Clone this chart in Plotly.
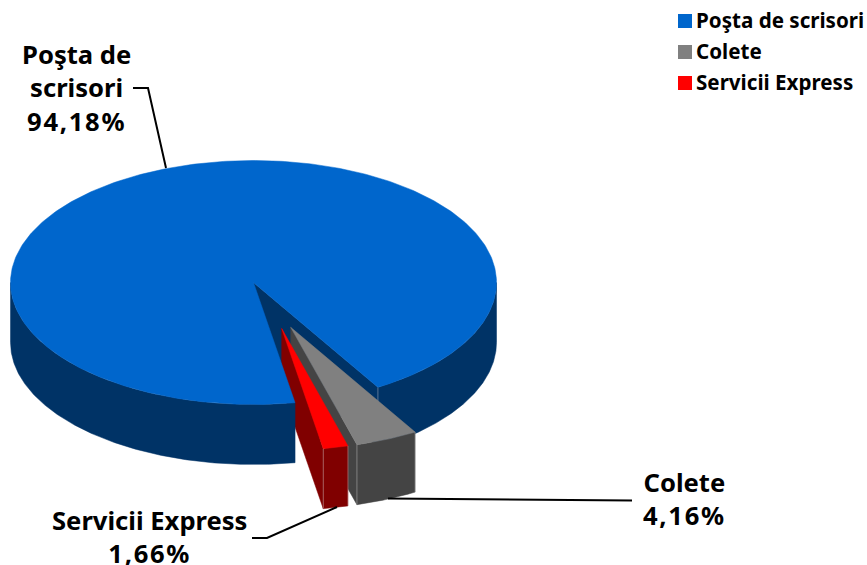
import numpy as np
import plotly.graph_objects as go

categories = ["Poşta de scrisori", "Colete", "Servicii Express"]
label_names = ["Poşta de<br>scrisori", "Colete", "Servicii Express"]
percent_values = [94.18, 4.16, 1.66]
percent_labels = ["94,18%", "4,16%", "1,66%"]

TOP_COLORS = ["#0066CC", "#808080", "#FF0000"]
SIDE_COLORS = ["#003366", "#444444", "#800000"]
EDGE = "rgba(215,215,215,0.4)"

W, H = 867, 565
CX, CY, RX, RY, DEPTH = 253.5, 282.5, 243.0, 122.0, 60.0
START_DEG = 59.2
ORDER = [1, 2, 0]  # clockwise from the start angle
OFFSETS = {0: (0.0, 0.0), 1: (37.2, 44.8), 2: (28.2, 46.0)}

FONT = "Noto Sans"
LEGEND_SIZE = 20.6
LABEL_SIZE = 25.6


def arc(a0, a1, n=200):
    return np.radians(np.linspace(a0, a1, n))


# angular spans derived from the values
spans = {}
a = START_DEG
tot = sum(percent_values)
for i in ORDER:
    spans[i] = (a, a + percent_values[i] / tot * 360)
    a = spans[i][1]

fig = go.Figure()


def poly(xs, ys, color):
    fig.add_trace(go.Scatter(
        x=list(xs) + [xs[0]], y=list(ys) + [ys[0]], mode="lines", fill="toself",
        fillcolor=color, line=dict(color=color, width=0.5),
        hoverinfo="skip", showlegend=False))


def line(xs, ys, color="#000000", width=2):
    fig.add_trace(go.Scatter(x=xs, y=ys, mode="lines",
                             line=dict(color=color, width=width),
                             hoverinfo="skip", showlegend=False))


def slice_xy(i, t):
    dx, dy = OFFSETS[i]
    return CX + dx + RX * np.cos(t), CY + dy + RY * np.sin(t)


def cut_face(i):
    vx, vy = CX + OFFSETS[i][0], CY + OFFSETS[i][1]
    ex, ey = slice_xy(i, np.radians(spans[i][1]))
    poly([vx, ex, ex, vx], [vy, ey, ey + DEPTH, vy + DEPTH], SIDE_COLORS[i])


def wall(i, w0, w1, n=200):
    x, y = slice_xy(i, arc(w0, w1, n))
    poly(np.r_[x, x[::-1]], np.r_[y, y[::-1] + DEPTH], SIDE_COLORS[i])


def top(i, n=400):
    vx, vy = CX + OFFSETS[i][0], CY + OFFSETS[i][1]
    x, y = slice_xy(i, arc(*spans[i], n))
    poly(np.r_[vx, x], np.r_[vy, y], TOP_COLORS[i])


def seam(i, ang):
    ex, ey = slice_xy(i, np.radians(ang))
    line([ex, ex], [ey, ey + DEPTH], EDGE, 1)


# back part of the big slice: the cut face in the gap and the right-hand wall
cut_face(0)
wall(0, 360, spans[0][1])
seam(0, spans[0][1])
# the two pulled-out slices
for i in (1, 2):
    cut_face(i)
    wall(i, *spans[i], 40)
    top(i, 40)
    seam(i, spans[i][0])
    seam(i, spans[i][1])
# front part of the big slice lies over their inner corners
wall(0, spans[0][0], 180)
top(0)

# leader lines
line([133, 148, 166], [88, 88, 168])
line([388, 632], [498.5, 500.5])
line([252, 267, 337], [538, 538, 507])

# data labels
label_pos = [(76.5, 87.5), (684, 498.5), (149.5, 537)]
for name, pct, (lx, ly) in zip(label_names, percent_labels, label_pos):
    text = f'<b>{name}<br><span style="letter-spacing:1.7px">{pct}</span></b>'
    fig.add_annotation(x=lx, y=ly, text=text, showarrow=False,
                       xanchor="center", yanchor="middle", align="center",
                       font=dict(family=FONT, size=LABEL_SIZE, color="#000000"))

# legend
legend_y = [21, 52, 83]
for name, color, ly in zip(categories, TOP_COLORS, legend_y):
    fig.add_trace(go.Scatter(x=[685], y=[ly], mode="markers",
                             marker=dict(symbol="square", size=14, color=color),
                             hoverinfo="skip", showlegend=False))
    fig.add_annotation(x=696, y=ly - 1, text=f"<b>{name}</b>", showarrow=False,
                       xanchor="left", yanchor="middle", xshift=-2,
                       font=dict(family=FONT, size=LEGEND_SIZE, color="#000000"))

fig.update_layout(
    width=W, height=H, margin=dict(l=0, r=0, t=0, b=0),
    paper_bgcolor="#FFFFFF", plot_bgcolor="#FFFFFF", showlegend=False,
    xaxis=dict(range=[0, W], visible=False, fixedrange=True),
    yaxis=dict(range=[H, 0], visible=False, fixedrange=True),
)
fig.write_html("out.html", config={"displayModeBar": False},
               post_script="document.body.style.margin='0';document.documentElement.style.overflow='hidden';")
